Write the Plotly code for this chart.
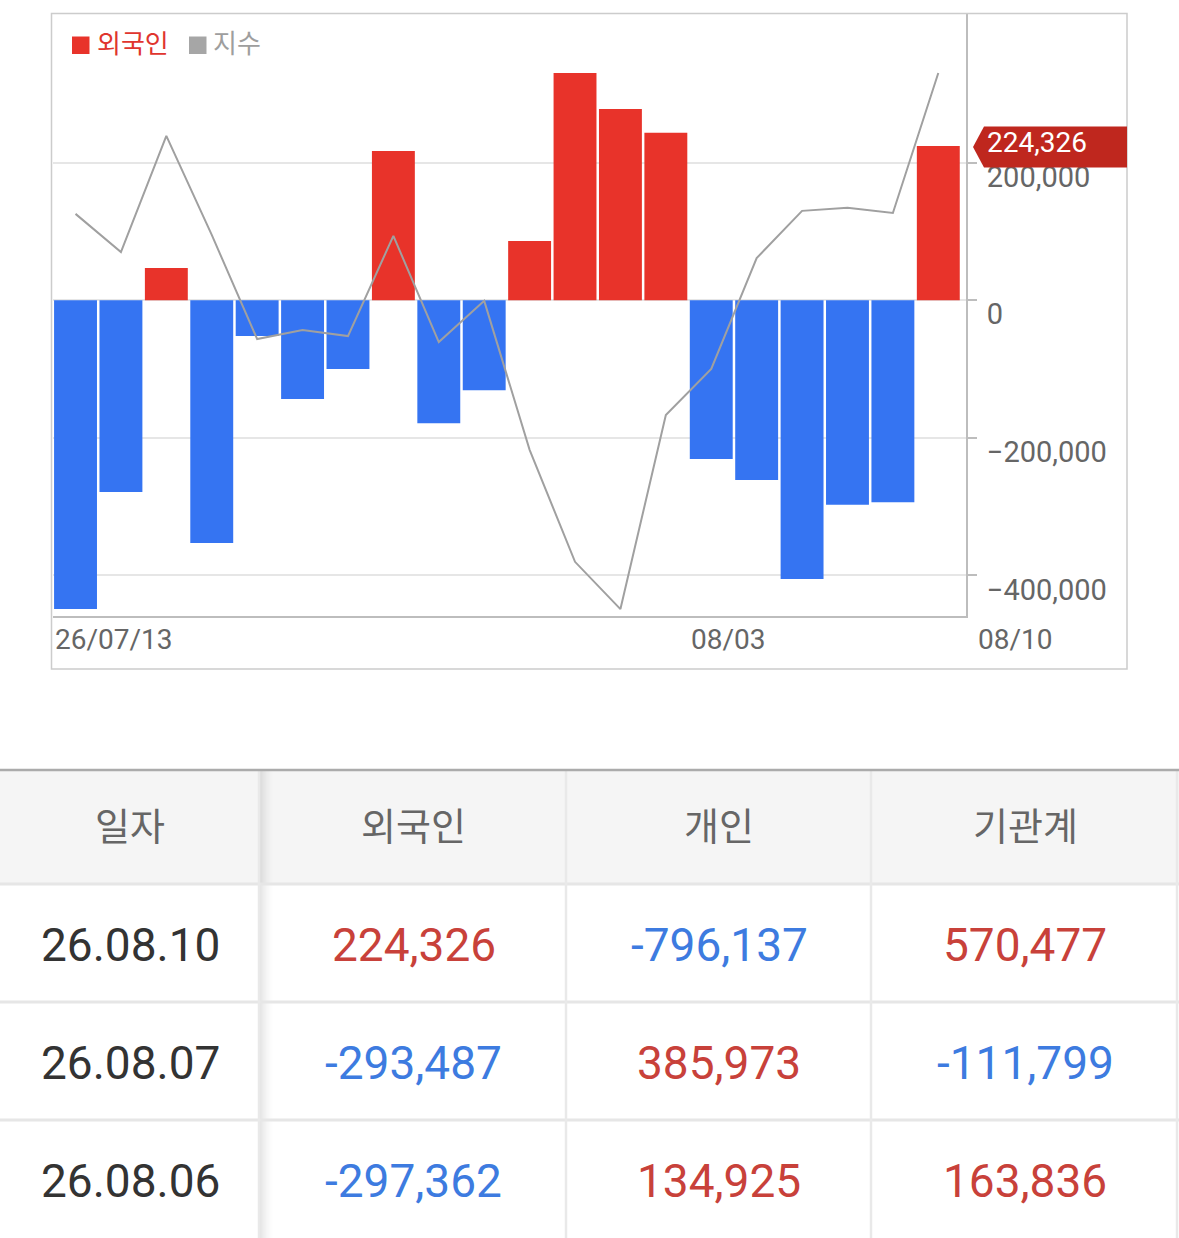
import plotly.graph_objects as go

# ---------------- data ----------------
dates = ["07/13", "07/14", "07/15", "07/16", "07/17",
         "07/20", "07/21", "07/22", "07/23", "07/24",
         "07/27", "07/28", "07/29", "07/30",
         "08/03", "08/04", "08/05", "08/06", "08/07", "08/10"]
foreign_net = [-448700, -278600, 46900, -352800, -51900,
               -143500, -99900, 217000, -178800, -130800,
               86200, 330400, 278100, 243600,
               -230700, -261200, -405100, -297362, -293487, 224326]
index_vals = [3213.6, 3200.9, 3239.5, 3206.6, 3172.0,
              3175.0, 3173.0, 3206.3, 3171.0, 3184.7,
              3135.2, 3098.0, 3082.3, 3146.8,
              3162.1, 3198.9, 3214.6, 3215.6, 3213.9, 3260.4]
y_tick_vals = [200000, 0, -200000, -400000]
y_tick_text = ["200,000", "0", "\u2212200,000", "\u2212400,000"]
x_label_text = ["26/07/13", "08/03"]
x_label_idx = [0, 14]
x_last_label = "08/10"
legend_names = ["외국인", "지수"]

table_header = ["일자", "외국인", "개인", "기관계"]
table_dates = ["26.08.10", "26.08.07", "26.08.06"]
table_foreign = [224326, -293487, -297362]
table_individual = [-796137, 385973, 134925]
table_institution = [570477, -111799, 163836]

# ---------------- style ----------------
W, H = 1179, 1238
RED = "#e8332a"
BLUE = "#3574f2"
GRAY_LINE = "#a0a0a0"
T_RED = "#c8413a"
T_BLUE = "#3d7be0"
FONT = "Roboto, 'Noto Sans CJK KR', sans-serif"


def py(px):
    return 1 - px / H


def pxx(px):
    return px / W


n = len(dates)
xs = list(range(n))
bar_colors = [RED if v >= 0 else BLUE for v in foreign_net]

fig = go.Figure()
fig.add_trace(go.Bar(x=xs, y=foreign_net, marker=dict(color=bar_colors, line=dict(width=0)),
                     name=legend_names[0], hovertext=dates, showlegend=False))
fig.add_trace(go.Scatter(x=xs, y=index_vals, mode="lines", yaxis="y2",
                         line=dict(color=GRAY_LINE, width=2), name=legend_names[1],
                         hovertext=dates, showlegend=False))

plot_left, plot_right, plot_top, plot_bottom = 52.5, 966, 14, 616

fig.update_layout(
    width=W, height=H,
    margin=dict(l=0, r=0, t=0, b=0),
    paper_bgcolor="white", plot_bgcolor="white",
    bargap=0.055,
    font=dict(family=FONT, color="#666"),
    xaxis=dict(domain=[pxx(plot_left), pxx(plot_right)], range=[-0.507, 19.61],
               showgrid=False, zeroline=False, showticklabels=False, ticks="",
               showline=True, linecolor="#bdbdbd", linewidth=2, fixedrange=True),
    yaxis=dict(domain=[py(plot_bottom), py(plot_top)], range=[-458900, 416100],
               side="right", tickvals=y_tick_vals, ticktext=y_tick_text,
               showgrid=True, gridcolor="#e6e6e6", gridwidth=2, zeroline=False,
               showline=True, linecolor="#bdbdbd", linewidth=2,
               ticks="outside", ticklen=9, tickwidth=2, tickcolor="#bdbdbd",
               tickfont=dict(family=FONT, size=29, color="#666"),
               ticklabelshift=14, ticklabelstandoff=4, fixedrange=True),
    yaxis2=dict(overlaying="y", range=[3080, 3280], visible=False, fixedrange=True),
    showlegend=False,
)

shapes = []
annotations = []

# outer chart frame
shapes.append(dict(type="rect", xref="paper", yref="paper", x0=pxx(51.5), x1=pxx(1127),
                   y0=py(669), y1=py(13.5), line=dict(color="#cccccc", width=1.5), layer="above"))

# legend
leg_colors = [RED, "#a6a6a6"]
leg_text_colors = ["#e0352e", "#9e9e9e"]
leg_sq_x = [72, 189]
leg_txt_x = [95, 211]
for i, name in enumerate(legend_names):
    shapes.append(dict(type="rect", xref="paper", yref="paper",
                       x0=pxx(leg_sq_x[i]), x1=pxx(leg_sq_x[i] + 17.5),
                       y0=py(54), y1=py(36.5), fillcolor=leg_colors[i], line=dict(width=0)))
    annotations.append(dict(xref="paper", yref="paper", x=pxx(leg_txt_x[i]), y=py(44),
                            xanchor="left", yanchor="middle", showarrow=False, text=name,
                            font=dict(family=FONT, size=26, color=leg_text_colors[i])))

# x labels
for t, idx in zip(x_label_text, x_label_idx):
    annotations.append(dict(xref="x", yref="paper", x=idx - 0.5, y=py(639),
                            xanchor="left", yanchor="middle", showarrow=False, text=t,
                            font=dict(family=FONT, size=28, color="#666")))
annotations.append(dict(xref="paper", yref="paper", x=pxx(976), y=py(639),
                        xanchor="left", yanchor="middle", showarrow=False, text=x_last_label,
                        font=dict(family=FONT, size=28, color="#666")))

# last value tag
last_val = foreign_net[-1]
shapes.append(dict(type="path", xref="paper", yref="y", xsizemode="pixel", ysizemode="pixel",
                   xanchor=pxx(plot_right), yanchor=last_val,
                   path="M 7 -1 L 18 19.5 L 161 19.5 L 161 -21.5 L 18 -21.5 Z",
                   fillcolor="#bf271e", line=dict(width=0), layer="above"))
annotations.append(dict(xref="paper", yref="y", x=pxx(985), y=last_val, yshift=3,
                        xanchor="left", yanchor="middle", showarrow=False,
                        text=f"{last_val:,}",
                        font=dict(family=FONT, size=28, color="white")))

# ---------------- table ----------------
col_edges = [0, 258, 566, 871, 1179]
head_top, head_bot = 770, 884
row_h = 118
row_tops = [head_bot + i * row_h for i in range(len(table_dates))]

shapes.append(dict(type="rect", xref="paper", yref="paper", x0=0, x1=1, y0=py(head_bot), y1=py(head_top),
                   fillcolor="#f5f5f5", line=dict(width=0)))
# shadow right of first column
for k in range(14):
    a = 0.10 * (1 - k / 14) ** 1.6
    shapes.append(dict(type="rect", xref="paper", yref="paper",
                       x0=pxx(260 + k), x1=pxx(261 + k), y0=0, y1=py(head_top + 1),
                       fillcolor=f"rgba(0,0,0,{a:.4f})", line=dict(width=0)))
# horizontal lines
for yy in [head_bot] + [t + row_h for t in row_tops[:-1]]:
    shapes.append(dict(type="line", xref="paper", yref="paper", x0=0, x1=1, y0=py(yy), y1=py(yy),
                       line=dict(color="#e6e6e6", width=3)))
# vertical lines
for xx in [259, 566, 871, 1177]:
    shapes.append(dict(type="line", xref="paper", yref="paper", x0=pxx(xx), x1=pxx(xx),
                       y0=0, y1=py(head_top), line=dict(color="#e9e9e9", width=2.5)))
shapes.append(dict(type="line", xref="paper", yref="paper", x0=0, x1=1, y0=py(head_top), y1=py(head_top),
                   line=dict(color="#ababab", width=2.5)))

col_centers = [130, 414, 719, 1025]
for i, h in enumerate(table_header):
    annotations.append(dict(xref="paper", yref="paper", x=pxx(col_centers[i]), y=py(827),
                            xanchor="center", yanchor="middle", showarrow=False, text=h,
                            font=dict(family=FONT, size=38, color="#666")))


def fmt(v):
    return f"{v:,}"


for r, top in enumerate(row_tops):
    cy = top + row_h / 2 + 2
    vals = [table_foreign[r], table_individual[r], table_institution[r]]
    annotations.append(dict(xref="paper", yref="paper", x=pxx(col_centers[0]), y=py(cy),
                            xanchor="center", yanchor="middle", showarrow=False,
                            text=table_dates[r], font=dict(family=FONT, size=46, color="#333")))
    for c, v in enumerate(vals):
        annotations.append(dict(xref="paper", yref="paper", x=pxx(col_centers[c + 1]), y=py(cy),
                                xanchor="center", yanchor="middle", showarrow=False,
                                text=fmt(v),
                                font=dict(family=FONT, size=46, color=T_RED if v >= 0 else T_BLUE)))

fig.update_layout(shapes=shapes, annotations=annotations)
fig.write_html("out.html", config={"displayModeBar": False},
               post_script="document.body.style.margin='0';document.body.style.padding='0';")
